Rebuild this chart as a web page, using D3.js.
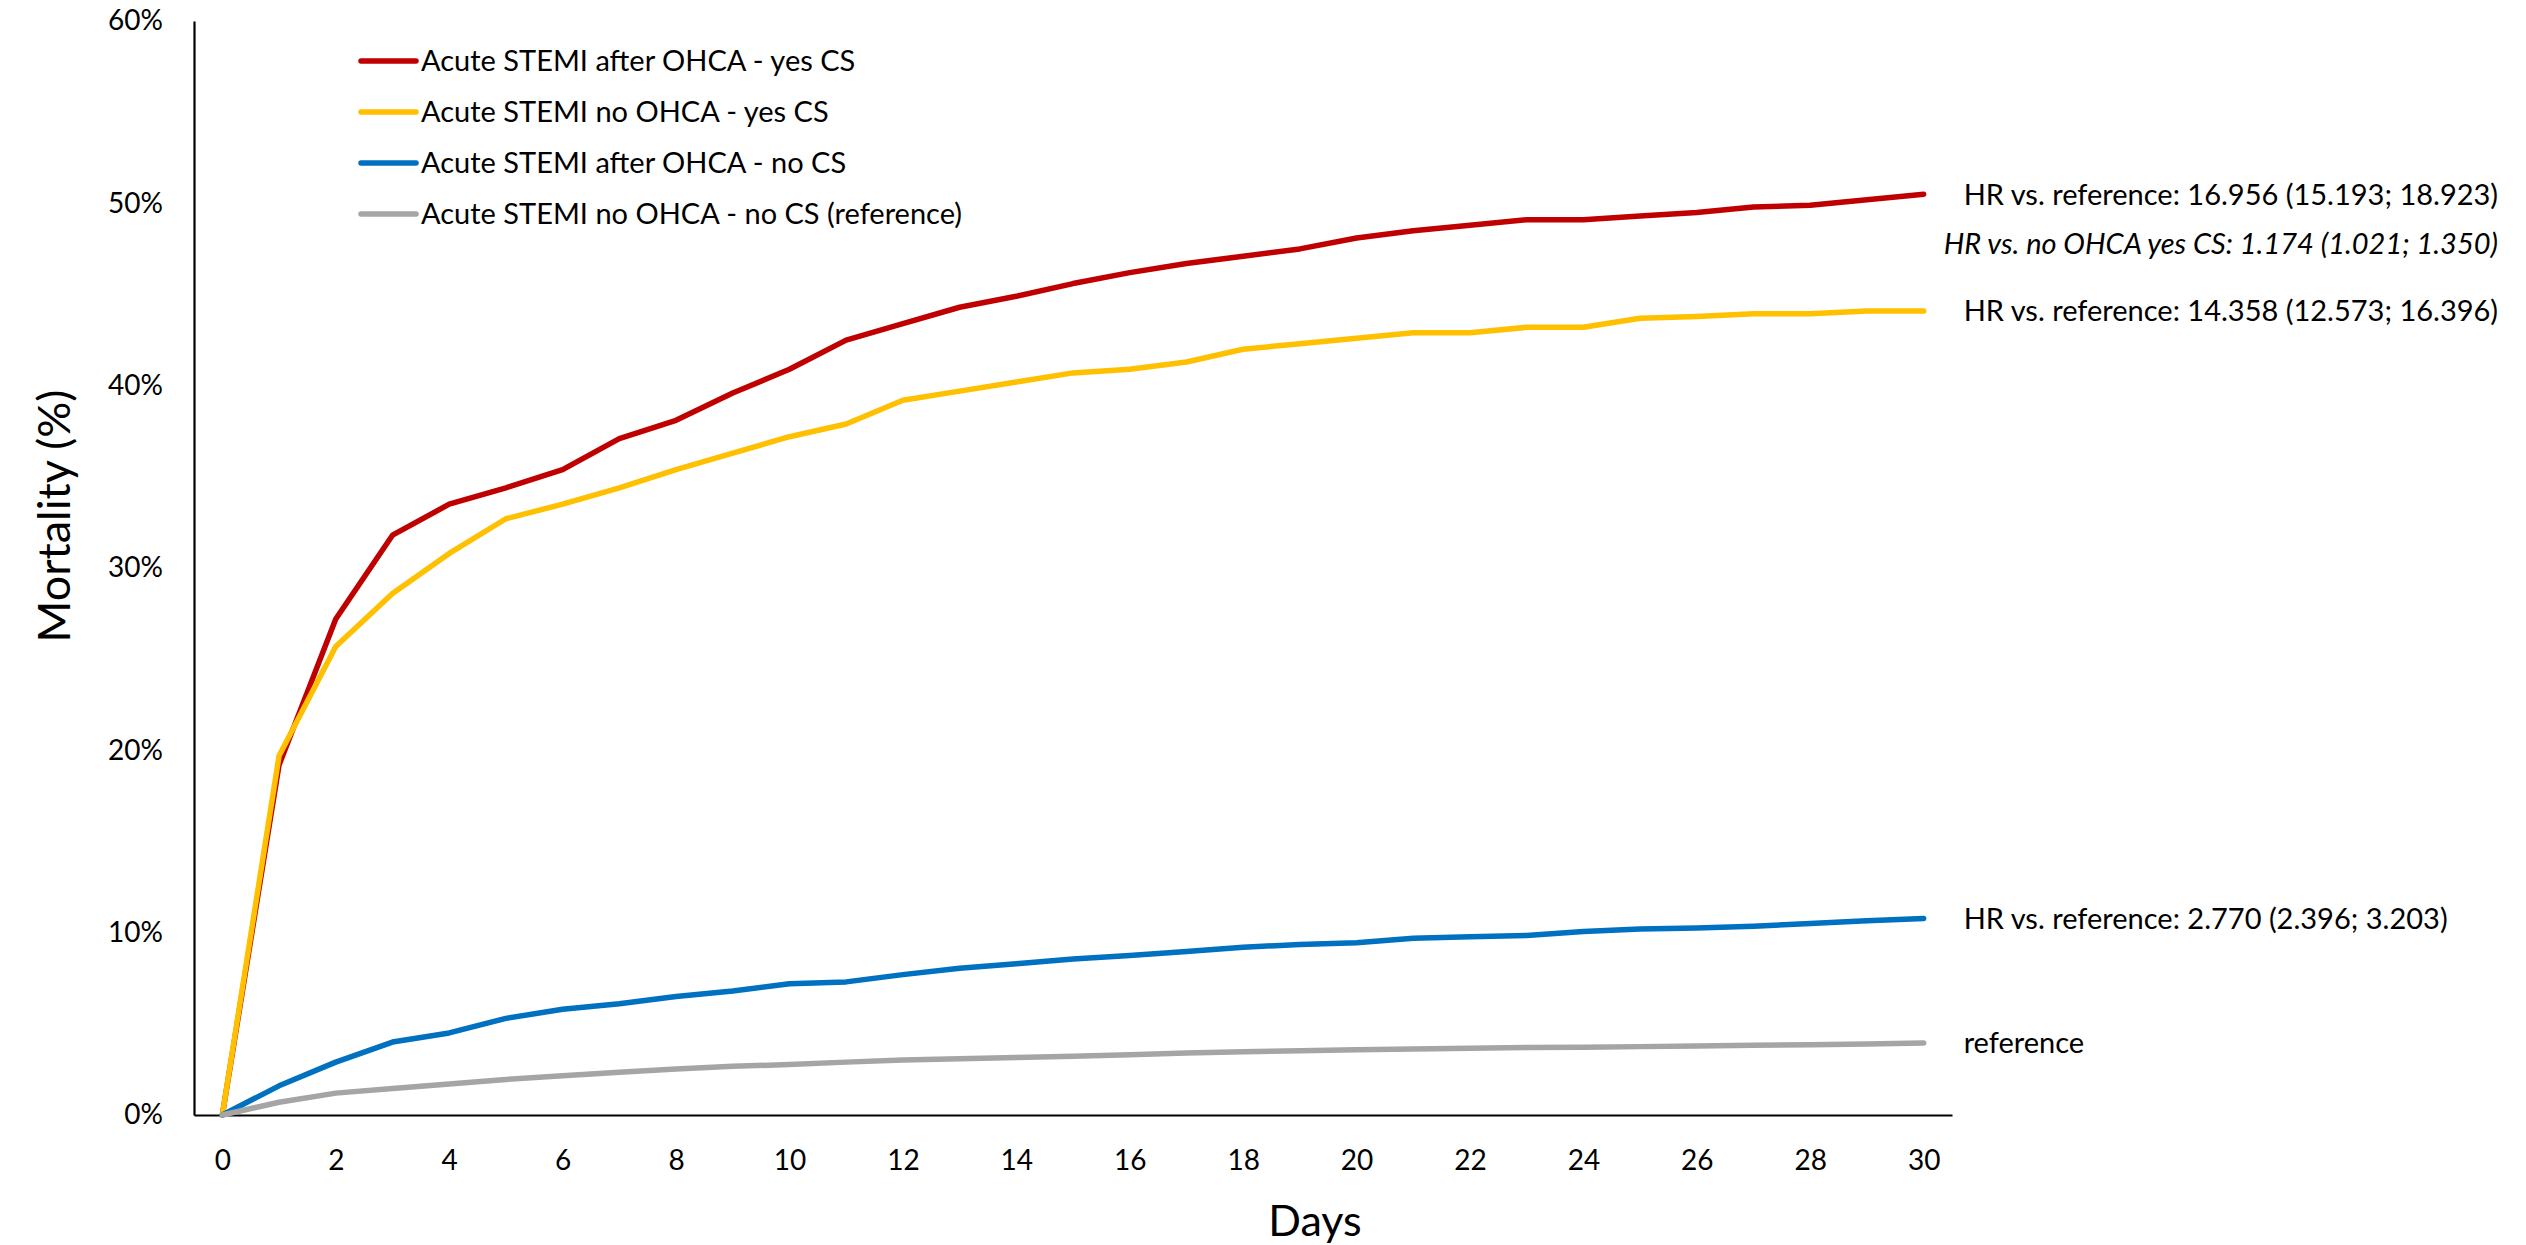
<!DOCTYPE html>
<html>
<head>
<meta charset="utf-8">
<script src="https://cdn.jsdelivr.net/npm/d3@7"></script>
<style>
  body { margin: 0; background: #fff; }
  text { font-family: Lato, "Open Sans", sans-serif; fill: #000; }
</style>
</head>
<body>
<div id="viz-container"></div>
<script>
// data, mortality in %
let days = d3.range(0, 31);
let dayTicks = d3.range(0, 31, 2);
let yTicks = [0, 0.1, 0.2, 0.3, 0.4, 0.5, 0.6];

let seriesNames = [
  "Acute STEMI after OHCA - yes CS",
  "Acute STEMI no OHCA - yes CS",
  "Acute STEMI after OHCA - no CS",
  "Acute STEMI no OHCA - no CS (reference)"
];
let seriesColors = ["#C00000", "#FFC000", "#0070C0", "#A5A5A5"];

let ohcaYesCS = [0, 19.2, 27.2, 31.8, 33.5, 34.4, 35.4, 37.1, 38.1, 39.6, 40.9,
  42.5, 43.4, 44.3, 44.9, 45.6, 46.2, 46.7, 47.1, 47.5, 48.1, 48.5, 48.8, 49.1,
  49.1, 49.3, 49.5, 49.8, 49.9, 50.2, 50.5];
let noOhcaYesCS = [0, 19.7, 25.7, 28.6, 30.8, 32.7, 33.5, 34.4, 35.4, 36.3, 37.2,
  37.9, 39.2, 39.7, 40.2, 40.7, 40.9, 41.3, 42.0, 42.3, 42.6, 42.9, 42.9, 43.2,
  43.2, 43.7, 43.8, 43.95, 43.95, 44.1, 44.1];
let ohcaNoCS = [0, 1.6, 2.9, 4.0, 4.5, 5.3, 5.8, 6.1, 6.5, 6.8, 7.2,
  7.3, 7.7, 8.05, 8.3, 8.55, 8.75, 8.97, 9.2, 9.35, 9.45, 9.7, 9.78, 9.85,
  10.07, 10.2, 10.26, 10.35, 10.5, 10.65, 10.78];
let noOhcaNoCS = [0, 0.7, 1.2, 1.45, 1.7, 1.95, 2.15, 2.35, 2.52, 2.67, 2.77,
  2.9, 3.02, 3.08, 3.15, 3.22, 3.3, 3.4, 3.47, 3.52, 3.58, 3.62, 3.66, 3.7,
  3.72, 3.75, 3.78, 3.82, 3.85, 3.9, 3.95];

let endLabels = [
  "HR vs. reference: 16.956 (15.193; 18.923)",
  "HR vs. reference: 14.358 (12.573; 16.396)",
  "HR vs. reference: 2.770 (2.396; 3.203)",
  "reference"
];
let extraLabel = "HR vs. no OHCA yes CS: 1.174 (1.021; 1.350)";

let allSeries = [ohcaYesCS, noOhcaYesCS, ohcaNoCS, noOhcaNoCS];

let viz = d3.select("#viz-container")
  .append("svg")
    .attr("width", 2526)
    .attr("height", 1245)
;

let x = d3.scaleLinear().domain([-0.5, 30.5]).range([194, 1952]);
let y = d3.scaleLinear().domain([0, 0.6]).range([1115, 21]);

// axes
viz.append("g")
  .attr("transform", "translate(194,0)")
  .call(d3.axisLeft(y).tickValues(yTicks).tickSize(0).tickPadding(31).tickFormat(d3.format(".0%")));

viz.append("g")
  .attr("transform", "translate(0,1115)")
  .call(d3.axisBottom(x).tickValues(dayTicks).tickSize(0).tickPadding(35).tickFormat(d3.format("d")));

viz.selectAll(".domain").attr("stroke", "#000").attr("stroke-width", 2.2);
viz.selectAll(".tick text").style("font-size", "28px").attr("fill", "#000");

// axis titles
viz.append("text")
  .attr("transform", "translate(70,516) rotate(-90)")
  .attr("text-anchor", "middle")
  .style("font-size", "45px")
  .text("Mortality (%)");

viz.append("text")
  .attr("x", 1315)
  .attr("y", 1236)
  .attr("text-anchor", "middle")
  .style("font-size", "43px")
  .text("Days");

// lines
let line = d3.line()
  .x((d, i) => x(days[i]))
  .y(d => y(d / 100));

viz.selectAll(".series")
  .data(allSeries)
  .enter().append("path")
    .attr("class", "series")
    .attr("d", d => line(d))
    .attr("fill", "none")
    .attr("stroke", (d, i) => seriesColors[i])
    .attr("stroke-width", 5.5)
    .attr("stroke-linejoin", "round")
    .attr("stroke-linecap", "round")
;

// labels at the line ends
let labels = viz.selectAll(".endlabel")
  .data(allSeries)
  .enter().append("text")
    .attr("class", "endlabel")
    .attr("x", x(30) + 40)
    .attr("y", d => y(d[d.length - 1] / 100))
    .attr("dy", "0.36em")
    .style("font-size", "29px")
    .text((d, i) => endLabels[i])
;

let redBox = labels.nodes()[0].getBBox();
viz.append("text")
  .attr("x", redBox.x + redBox.width)
  .attr("y", y(ohcaYesCS[30] / 100) + 49)
  .attr("dy", "0.36em")
  .attr("text-anchor", "end")
  .style("font-size", "29px")
  .style("font-style", "italic")
  .text(extraLabel);

// legend
let legend = viz.append("g").attr("transform", "translate(361,61)");
let rows = legend.selectAll("g")
  .data(seriesNames)
  .enter().append("g")
    .attr("transform", (d, i) => "translate(0," + i * 51 + ")");

rows.append("line")
  .attr("x1", 0).attr("x2", 55)
  .attr("stroke", (d, i) => seriesColors[i])
  .attr("stroke-width", 5.5)
  .attr("stroke-linecap", "round");

rows.append("text")
  .attr("x", 60)
  .attr("dy", "0.36em")
  .style("font-size", "29px")
  .text(d => d);
</script>
</body>
</html>
